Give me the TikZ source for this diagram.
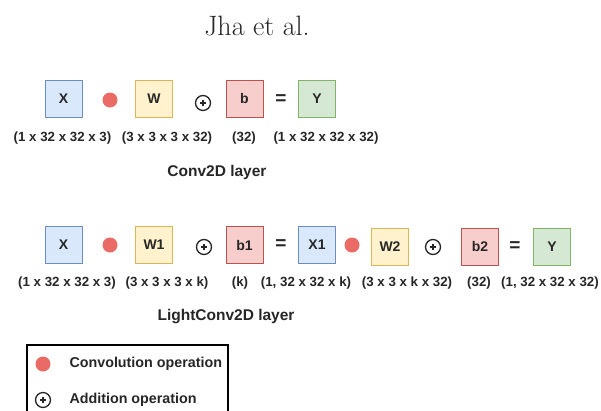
\documentclass[tikz,border=0pt]{standalone}
\usepackage{fontspec}
\setsansfont{Liberation Sans}
\usepackage{tikz}

\definecolor{xfill}{HTML}{DAE8FC}\definecolor{xline}{HTML}{6C8EBF}
\definecolor{wfill}{HTML}{FFF2CC}\definecolor{wline}{HTML}{D6B656}
\definecolor{bfill}{HTML}{F8CECC}\definecolor{bline}{HTML}{B85450}
\definecolor{yfill}{HTML}{D5E8D4}\definecolor{yline}{HTML}{82B366}
\definecolor{convred}{HTML}{EA6B66}
\definecolor{txt}{HTML}{262626}

\begin{document}
\begin{tikzpicture}[x=1pt,y=-1pt,
	tensor/.style ={rectangle, thick, minimum size=37pt, inner sep=0pt, font=\sffamily\bfseries\fontsize{14}{16}\selectfont, text=txt},
	xbox/.style ={tensor, fill=xfill, draw=xline},
	wbox/.style ={tensor, fill=wfill, draw=wline},
	bbox/.style ={tensor, fill=bfill, draw=bline},
	ybox/.style ={tensor, fill=yfill, draw=yline},
	conv/.style ={circle, fill=convred, minimum size=15pt, inner sep=0pt},
	addop/.style ={circle, draw=txt, line width=1.3pt, minimum size=15pt, inner sep=0pt,
		path picture={\draw[txt, line width=1.2pt] ([xshift=-3.2pt]path picture bounding box.center) -- ([xshift=3.2pt]path picture bounding box.center);
			\draw[txt, line width=1.2pt] ([yshift=-3.2pt]path picture bounding box.center) -- ([yshift=3.2pt]path picture bounding box.center);}},
	eqsign/.style ={font=\sffamily\bfseries\fontsize{19}{20}\selectfont, text=txt},
	dims/.style ={font=\sffamily\bfseries\fontsize{13.3}{15}\selectfont, text=txt, inner sep=0pt},
	caption/.style ={font=\sffamily\bfseries\fontsize{15.5}{17}\selectfont, text=txt},
	legendtext/.style ={font=\sffamily\bfseries\fontsize{14.3}{16}\selectfont, text=txt, anchor=west}]
		\useasboundingbox (0,0) rectangle (601,410);
		\node[font=\fontsize{28}{32}\selectfont, text=txt] (title) at (257,26) {Jha et al.};
		% Conv2D layer
		\node[xbox] (x) at (63.5,98.5) {X};
		\node[conv] (c) at (110,100) {};
		\node[wbox] (w) at (154,98.5) {W};
		\node[addop] (p) at (203,103) {};
		\node[bbox] (b) at (244.5,98.5) {b};
		\node[eqsign] (e) at (281,100) {=};
		\node[ybox] (y) at (317,98.5) {Y};
		\node[dims] (dx) at (62.5,138) {(1 x 32 x 32 x 3)};
		\node[dims] (dw) at (167,138) {(3 x 3 x 3 x 32)};
		\node[dims] (db) at (244,138) {(32)};
		\node[dims] (dy) at (326,138) {(1 x 32 x 32 x 32)};
		\node[caption] (conv2d) at (217,172) {Conv2D layer};
		% LightConv2D layer
		\node[xbox] (lx) at (63.5,245) {X};
		\node[conv] (lc1) at (110,245) {};
		\node[wbox] (lw1) at (154,245) {W1};
		\node[addop] (lp1) at (204,247) {};
		\node[bbox] (lb1) at (244.5,245) {b1};
		\node[eqsign] (le1) at (281,245) {=};
		\node[xbox] (lx1) at (317,245) {X1};
		\node[conv] (lc2) at (352,245) {};
		\node[wbox] (lw2) at (390,246.5) {W2};
		\node[addop] (lp2) at (433,247) {};
		\node[bbox] (lb2) at (480,246.5) {b2};
		\node[eqsign] (le2) at (515,247) {=};
		\node[ybox] (ly) at (552,246.5) {Y};
		\node[dims] (ldx) at (67,283) {(1 x 32 x 32 x 3)};
		\node[dims] (ldw1) at (167,283) {(3 x 3 x 3 x k)};
		\node[dims] (ldb1) at (240,283) {(k)};
		\node[dims] (ldx1) at (306,283) {(1, 32 x 32 x k)};
		\node[dims] (ldw2) at (407,283) {(3 x 3 x k x 32)};
		\node[dims] (ldb2) at (479,283) {(32)};
		\node[dims] (ldy) at (550,283) {(1, 32 x 32 x 32)};
		\node[caption] (lconv2d) at (226,317) {LightConv2D layer};
		% legend
		\draw[line width=1.8pt, black] (27,345) rectangle (228,430);
		\node[conv] (kc) at (43,364) {};
		\node[legendtext] (kct) at (66,364) {Convolution operation};
		\node[addop] (kp) at (43,400) {};
		\node[legendtext] (kpt) at (66,400) {Addition operation};
	\end{tikzpicture}
\end{document}
